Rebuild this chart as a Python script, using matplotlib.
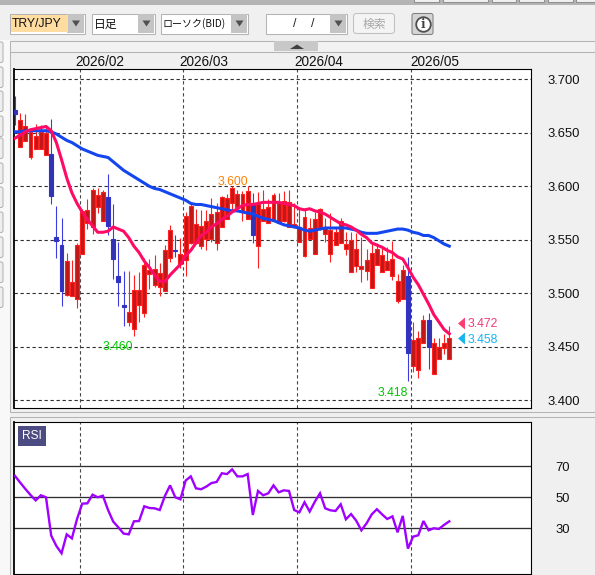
import matplotlib
matplotlib.use("Agg")
import matplotlib.pyplot as plt
from matplotlib.patches import Rectangle, FancyBboxPatch, Polygon

W, H = 595, 575
JP = ['Noto Sans CJK JP', 'DejaVu Sans']
LAT = 'Liberation Sans'

highs = [3.685,3.669,3.668,3.654,3.658,3.657,3.656,3.663,3.582,3.570,3.538,3.531,3.547,3.579,3.588,3.598,3.598,3.597,3.612,3.583,3.548,3.521,3.521,3.517,3.520,3.533,3.532,3.536,3.528,3.545,3.564,3.554,3.552,3.576,3.584,3.579,3.578,3.578,3.589,3.584,3.591,3.593,3.600,3.597,3.596,3.600,3.594,3.595,3.597,3.588,3.594,3.594,3.596,3.597,3.584,3.581,3.578,3.570,3.576,3.580,3.570,3.575,3.562,3.570,3.557,3.557,3.556,3.553,3.541,3.547,3.547,3.543,3.543,3.549,3.518,3.526,3.534,3.473,3.465,3.480,3.481,3.458,3.458,3.462,3.469]
lows = [3.657,3.637,3.642,3.626,3.635,3.635,3.629,3.583,3.533,3.488,3.497,3.497,3.486,3.537,3.560,3.555,3.575,3.568,3.554,3.513,3.488,3.469,3.469,3.460,3.473,3.478,3.504,3.506,3.497,3.502,3.529,3.534,3.524,3.516,3.546,3.546,3.541,3.540,3.548,3.540,3.562,3.569,3.578,3.578,3.568,3.569,3.547,3.524,3.568,3.566,3.568,3.566,3.567,3.562,3.561,3.548,3.534,3.551,3.538,3.559,3.548,3.529,3.545,3.547,3.536,3.520,3.520,3.510,3.512,3.505,3.526,3.520,3.522,3.512,3.491,3.495,3.418,3.426,3.421,3.453,3.429,3.424,3.438,3.443,3.438]
tops = [3.671,3.662,3.656,3.651,3.647,3.651,3.650,3.630,3.553,3.545,3.530,3.510,3.545,3.577,3.578,3.597,3.592,3.595,3.590,3.551,3.516,3.489,3.482,3.503,3.503,3.526,3.522,3.523,3.519,3.540,3.559,3.540,3.537,3.572,3.582,3.565,3.563,3.568,3.574,3.576,3.590,3.589,3.598,3.593,3.593,3.596,3.583,3.583,3.579,3.581,3.592,3.584,3.586,3.585,3.565,3.562,3.571,3.561,3.569,3.579,3.562,3.559,3.557,3.568,3.546,3.550,3.541,3.525,3.531,3.538,3.541,3.536,3.530,3.532,3.511,3.522,3.516,3.456,3.458,3.475,3.475,3.453,3.450,3.453,3.458]
bottoms = [3.668,3.637,3.642,3.627,3.635,3.635,3.629,3.591,3.549,3.502,3.498,3.497,3.495,3.537,3.566,3.562,3.581,3.568,3.563,3.532,3.510,3.487,3.473,3.466,3.489,3.481,3.518,3.508,3.506,3.502,3.533,3.539,3.527,3.531,3.547,3.547,3.544,3.551,3.551,3.547,3.562,3.569,3.584,3.581,3.576,3.569,3.554,3.544,3.568,3.566,3.568,3.566,3.568,3.562,3.562,3.548,3.535,3.551,3.537,3.561,3.555,3.537,3.545,3.547,3.541,3.520,3.525,3.523,3.521,3.505,3.526,3.520,3.522,3.516,3.493,3.495,3.444,3.432,3.428,3.453,3.450,3.424,3.438,3.449,3.438]
falling = [0,7,8,9,18,19,20,21,31,46,76,80]

ma_fast = [3.645,3.648,3.651,3.653,3.654,3.655,3.656,3.652,3.641,3.625,3.608,3.594,3.584,3.576,3.569,3.563,3.557,3.557,3.558,3.562,3.560,3.558,3.552,3.544,3.538,3.530,3.524,3.517,3.511,3.511,3.517,3.522,3.527,3.535,3.540,3.547,3.554,3.557,3.562,3.565,3.569,3.572,3.576,3.579,3.582,3.583,3.583,3.584,3.585,3.585,3.585,3.585,3.584,3.583,3.582,3.579,3.578,3.579,3.577,3.576,3.574,3.571,3.568,3.565,3.564,3.562,3.559,3.555,3.552,3.547,3.545,3.543,3.540,3.538,3.534,3.532,3.524,3.515,3.508,3.499,3.490,3.480,3.473,3.466,3.462]
ma_slow = [3.651,3.651,3.652,3.652,3.652,3.652,3.652,3.651,3.649,3.646,3.643,3.641,3.638,3.635,3.633,3.631,3.629,3.628,3.627,3.623,3.619,3.615,3.612,3.609,3.606,3.603,3.600,3.598,3.597,3.595,3.593,3.591,3.589,3.587,3.584,3.583,3.583,3.582,3.581,3.580,3.579,3.578,3.577,3.577,3.576,3.575,3.574,3.572,3.570,3.569,3.568,3.566,3.564,3.563,3.562,3.561,3.559,3.558,3.559,3.560,3.561,3.561,3.561,3.561,3.561,3.560,3.559,3.557,3.556,3.556,3.556,3.557,3.558,3.559,3.560,3.560,3.559,3.557,3.556,3.554,3.554,3.552,3.549,3.546,3.544]
rsi = [63.8,59.5,55.4,51.5,48,51.3,50,25.3,18.6,13.9,26.1,23.5,36,45.9,46.1,51.7,50,51,41.8,34.3,30.6,26.6,26.1,34.5,34.7,44.2,43.1,42.9,41.8,50.9,57.7,50,48.7,60.8,63.5,55.8,55.2,56.9,59.2,59.9,65.5,65,68,63.5,63.5,65,38.6,54.1,51.3,52.6,57.7,53.2,54.5,54.1,41.8,40.3,46.8,40.8,47.2,52.6,42.9,41.6,41.2,45.5,35.8,39.2,34.9,28.7,33.2,39,42.3,39,36,37.7,27.4,38,16.9,24.6,25.5,34.7,28.7,30,29.6,32.2,34.5]

price_ticks = [3.700,3.650,3.600,3.550,3.500,3.450,3.400]
rsi_ticks = [70,50,30]
month_pos = [12.48,32.4,54.45,76.5]
month_label_pos = [11.6,31.7,54.0,76.4]
month_labels = ['2026/02','2026/03','2026/04','2026/05']

PITCH = 5.17
X0 = 15.0
BG = '#F0F0F0'
DASH = (3, 2.4)
GREEN = '#00C800'

fig = plt.figure(figsize=(W/100, H/100), dpi=100, facecolor=BG)

def ax_px(l, t, r, b, **kw):
    return fig.add_axes([l/W, 1-b/H, (r-l)/W, (b-t)/H], **kw)

ui = ax_px(0, 0, W, H)
ui.set_xlim(0, W); ui.set_ylim(H, 0); ui.axis('off'); ui.set_zorder(0)

def rect(x, y, w, h, fc, ec='none', lw=0.75, z=1):
    ui.add_patch(Rectangle((x, y), w, h, fc=fc, ec=ec, lw=lw, zorder=z))

def combo(x, y, w, h, bw, fill='white'):
    rect(x+.5, y+.5, w, h, fill, '#B4B4B4')
    rect(x+w-bw, y+1, bw, h-1, '#C4C4C4')
    xc = x+w-bw/2+.5; yc = y+h/2+.5
    ui.add_patch(Polygon([(xc-4, yc-3), (xc+4, yc-3), (xc, yc+3)], fc='#505050', ec='none', zorder=2))

rect(0, 0, W, 5, '#B4B4B4')
rect(0, 5, W, 35, BG)
for tx, tw in [(413, 25), (442, 45), (491, 24), (518, 25), (547, 25), (575, 20)]:
    rect(tx+.5, -2, tw, 3.5, '#F0F0F0', '#909090')
combo(9, 13, 75, 20, 17)
rect(11, 15, 57, 17, '#FFDCA0')
combo(91, 13, 63, 20, 16)
combo(160, 13, 87, 20, 16)
combo(265, 13, 81, 20, 16)
ui.text(12, 24, 'TRY/JPY', family=LAT, fontsize=8.8, va='center', color='#111111', zorder=3)
ui.text(94, 24, '日足', family=JP, fontsize=8.5, va='center', color='#111111', zorder=3)
ui.text(163, 24, 'ローソク(BID)', family=JP, fontsize=7.2, va='center', color='#111111', zorder=3)
ui.text(295, 24, '/', family=LAT, fontsize=9, va='center', ha='center', color='#222222', zorder=3)
ui.text(313, 24, '/', family=LAT, fontsize=9, va='center', ha='center', color='#222222', zorder=3)
ui.add_patch(FancyBboxPatch((353.5, 13.5), 41, 20, boxstyle='round,pad=0,rounding_size=3', fc='#F4F4F4', ec='#C0C0C0', lw=0.75, zorder=2))
ui.text(374, 24, '検索', family=JP, fontsize=8.5, va='center', ha='center', color='#A8A8A8', zorder=3)
ui.add_patch(FancyBboxPatch((412, 13.5), 21, 21, boxstyle='round,pad=0,rounding_size=2', fc='#D4D4D4', ec='#808080', lw=0.75, zorder=2))
ui.plot([422.5], [24], marker='o', ms=10.5, mfc='white', mec='#505050', mew=1.3, zorder=3)
ui.text(422.5, 24, 'i', family='DejaVu Serif', weight='bold', fontsize=8.5, va='center', ha='center', color='#404040', zorder=4)

rect(0, 40, 9.5, 535, '#F8F8F8')
rect(9.5, 40.5, 586, 11, '#F2F2F2', '#B4B4B4')
rect(274, 41, 44, 10, '#C8C8C8')
ui.add_patch(Polygon([(290, 49), (304, 49), (297, 44.5)], fc='#404040', ec='none', zorder=2))
rect(9.5, 51.5, 586, 360.5, BG, '#B4B4B4')
rect(9.5, 416.5, 586, 159, BG, '#B4B4B4')
for y0 in [42, 67, 91, 116, 138, 163, 187, 212, 237, 262, 287]:
    ui.add_patch(FancyBboxPatch((-4, y0), 7, 20.5, boxstyle='round,pad=0,rounding_size=2', fc='#EEEEEE', ec='#B4B4B4', lw=0.75, zorder=2))

# price panel
ax = ax_px(13.5, 68.5, 530.5, 408)
ax.set_zorder(2)
x_lim = ((13.5-X0)/PITCH, (530.5-X0)/PITCH)
ax.set_xlim(*x_lim)
top_y = 3.7744 - 0.000936*68.5
bot_y = 3.7744 - 0.000936*408
ax.set_ylim(bot_y, top_y)
ax.set_facecolor('white')
for p in price_ticks:
    ax.axhline(p, color='#303030', lw=0.8, dashes=DASH, zorder=1)
for m in month_pos:
    ax.axvline(m, color='#484848', lw=0.8, dashes=DASH, zorder=1)

for i, (hi, lo, t, b) in enumerate(zip(highs, lows, tops, bottoms)):
    down = i in falling
    edge = '#3C3CE0' if down else '#FF2020'
    fill = '#3232B4' if down else '#C01818'
    ax.plot([i, i], [lo, hi], color=edge, lw=0.8, solid_capstyle='butt', zorder=3)
    ax.add_patch(Rectangle((i-0.38, b), 0.76, t-b, fc=fill, ec='#3232C8' if down else edge, lw=0.8, zorder=4))

xs = list(range(len(ma_fast)))
ax.plot(xs, ma_slow, color='#1446F0', lw=2.2, zorder=5, solid_joinstyle='round')
ax.plot(xs, ma_fast, color='#FF0A64', lw=2.2, zorder=6, solid_joinstyle='round')

ax.text(42.1, 3.604, '3.600', color='#FF8000', family=LAT, fontsize=8.8, ha='center', va='center', zorder=7)
ax.text(19.9, 3.4496, '3.460', color=GREEN, family=LAT, fontsize=8.8, ha='center', va='center', zorder=7)
ax.text(73.1, 3.4065, '3.418', color=GREEN, family=LAT, fontsize=8.8, ha='center', va='center', zorder=7)

TRI = [(0.58, 1), (0.58, -1), (-0.58, 0)]
ax.plot([86.2], [3.472], marker=TRI, ms=8.6, color='#FF3C6E', mec='none', zorder=7, clip_on=False)
ax.text(87.6, 3.4715, '3.472', color='#F03C78', family=LAT, fontsize=8.8, va='center', zorder=7)
ax.plot([86.2], [3.458], marker=TRI, ms=8.6, color='#14B4F0', mec='none', zorder=7, clip_on=False)
ax.text(87.6, 3.4565, '3.458', color='#14B4F0', family=LAT, fontsize=8.8, va='center', zorder=7)

ax.xaxis.tick_top()
ax.set_xticks(month_label_pos, month_labels, family=LAT, fontsize=9.8, ha='left', color='#111111')
ax.yaxis.tick_right()
ax.set_yticks(price_ticks, [f'{p:.3f}' for p in price_ticks], family=LAT, fontsize=9.4, color='#111111')
ax.tick_params(axis='both', length=0)
ax.tick_params(axis='x', pad=-0.5)
ax.tick_params(axis='y', pad=12)
for s in ax.spines.values():
    s.set_linewidth(0.8); s.set_color('black')
ax.spines['left'].set_linewidth(1.3)

# RSI panel
ax2 = ax_px(13.5, 421.5, 530.5, 573.5)
ax2.set_zorder(2)
ax2.set_xlim(*x_lim)
ax2.set_ylim(50-(573.5-497.3)/1.55, 50+(497.3-421.5)/1.55)
ax2.set_facecolor('white')
for v in rsi_ticks:
    ax2.axhline(v, color='#303030', lw=0.95, zorder=1)
for m in month_pos:
    ax2.axvline(m, color='#484848', lw=0.8, dashes=DASH, zorder=1)
ax2.plot(xs, rsi, color='#A000FF', lw=1.7, zorder=3, solid_joinstyle='miter')
ax2.add_patch(Rectangle((18/W, 1-446/H), 28/W, 20/H, transform=fig.transFigure, fc='#4C4C82', ec='none', zorder=4))
ax2.text(32/W, 1-436/H, 'RSI', transform=fig.transFigure, color='white', family=LAT, fontsize=8.6,
         va='center', ha='center', zorder=5)
ax2.set_xticks([])
ax2.yaxis.tick_right()
ax2.set_yticks(rsi_ticks, [str(v) for v in rsi_ticks], family=LAT, fontsize=9.4, color='#111111')
ax2.tick_params(axis='y', length=0, pad=18)
for s in ax2.spines.values():
    s.set_linewidth(0.8); s.set_color('black')
ax2.spines['left'].set_linewidth(1.3)

fig.savefig('out.png', dpi=100, facecolor=BG)
